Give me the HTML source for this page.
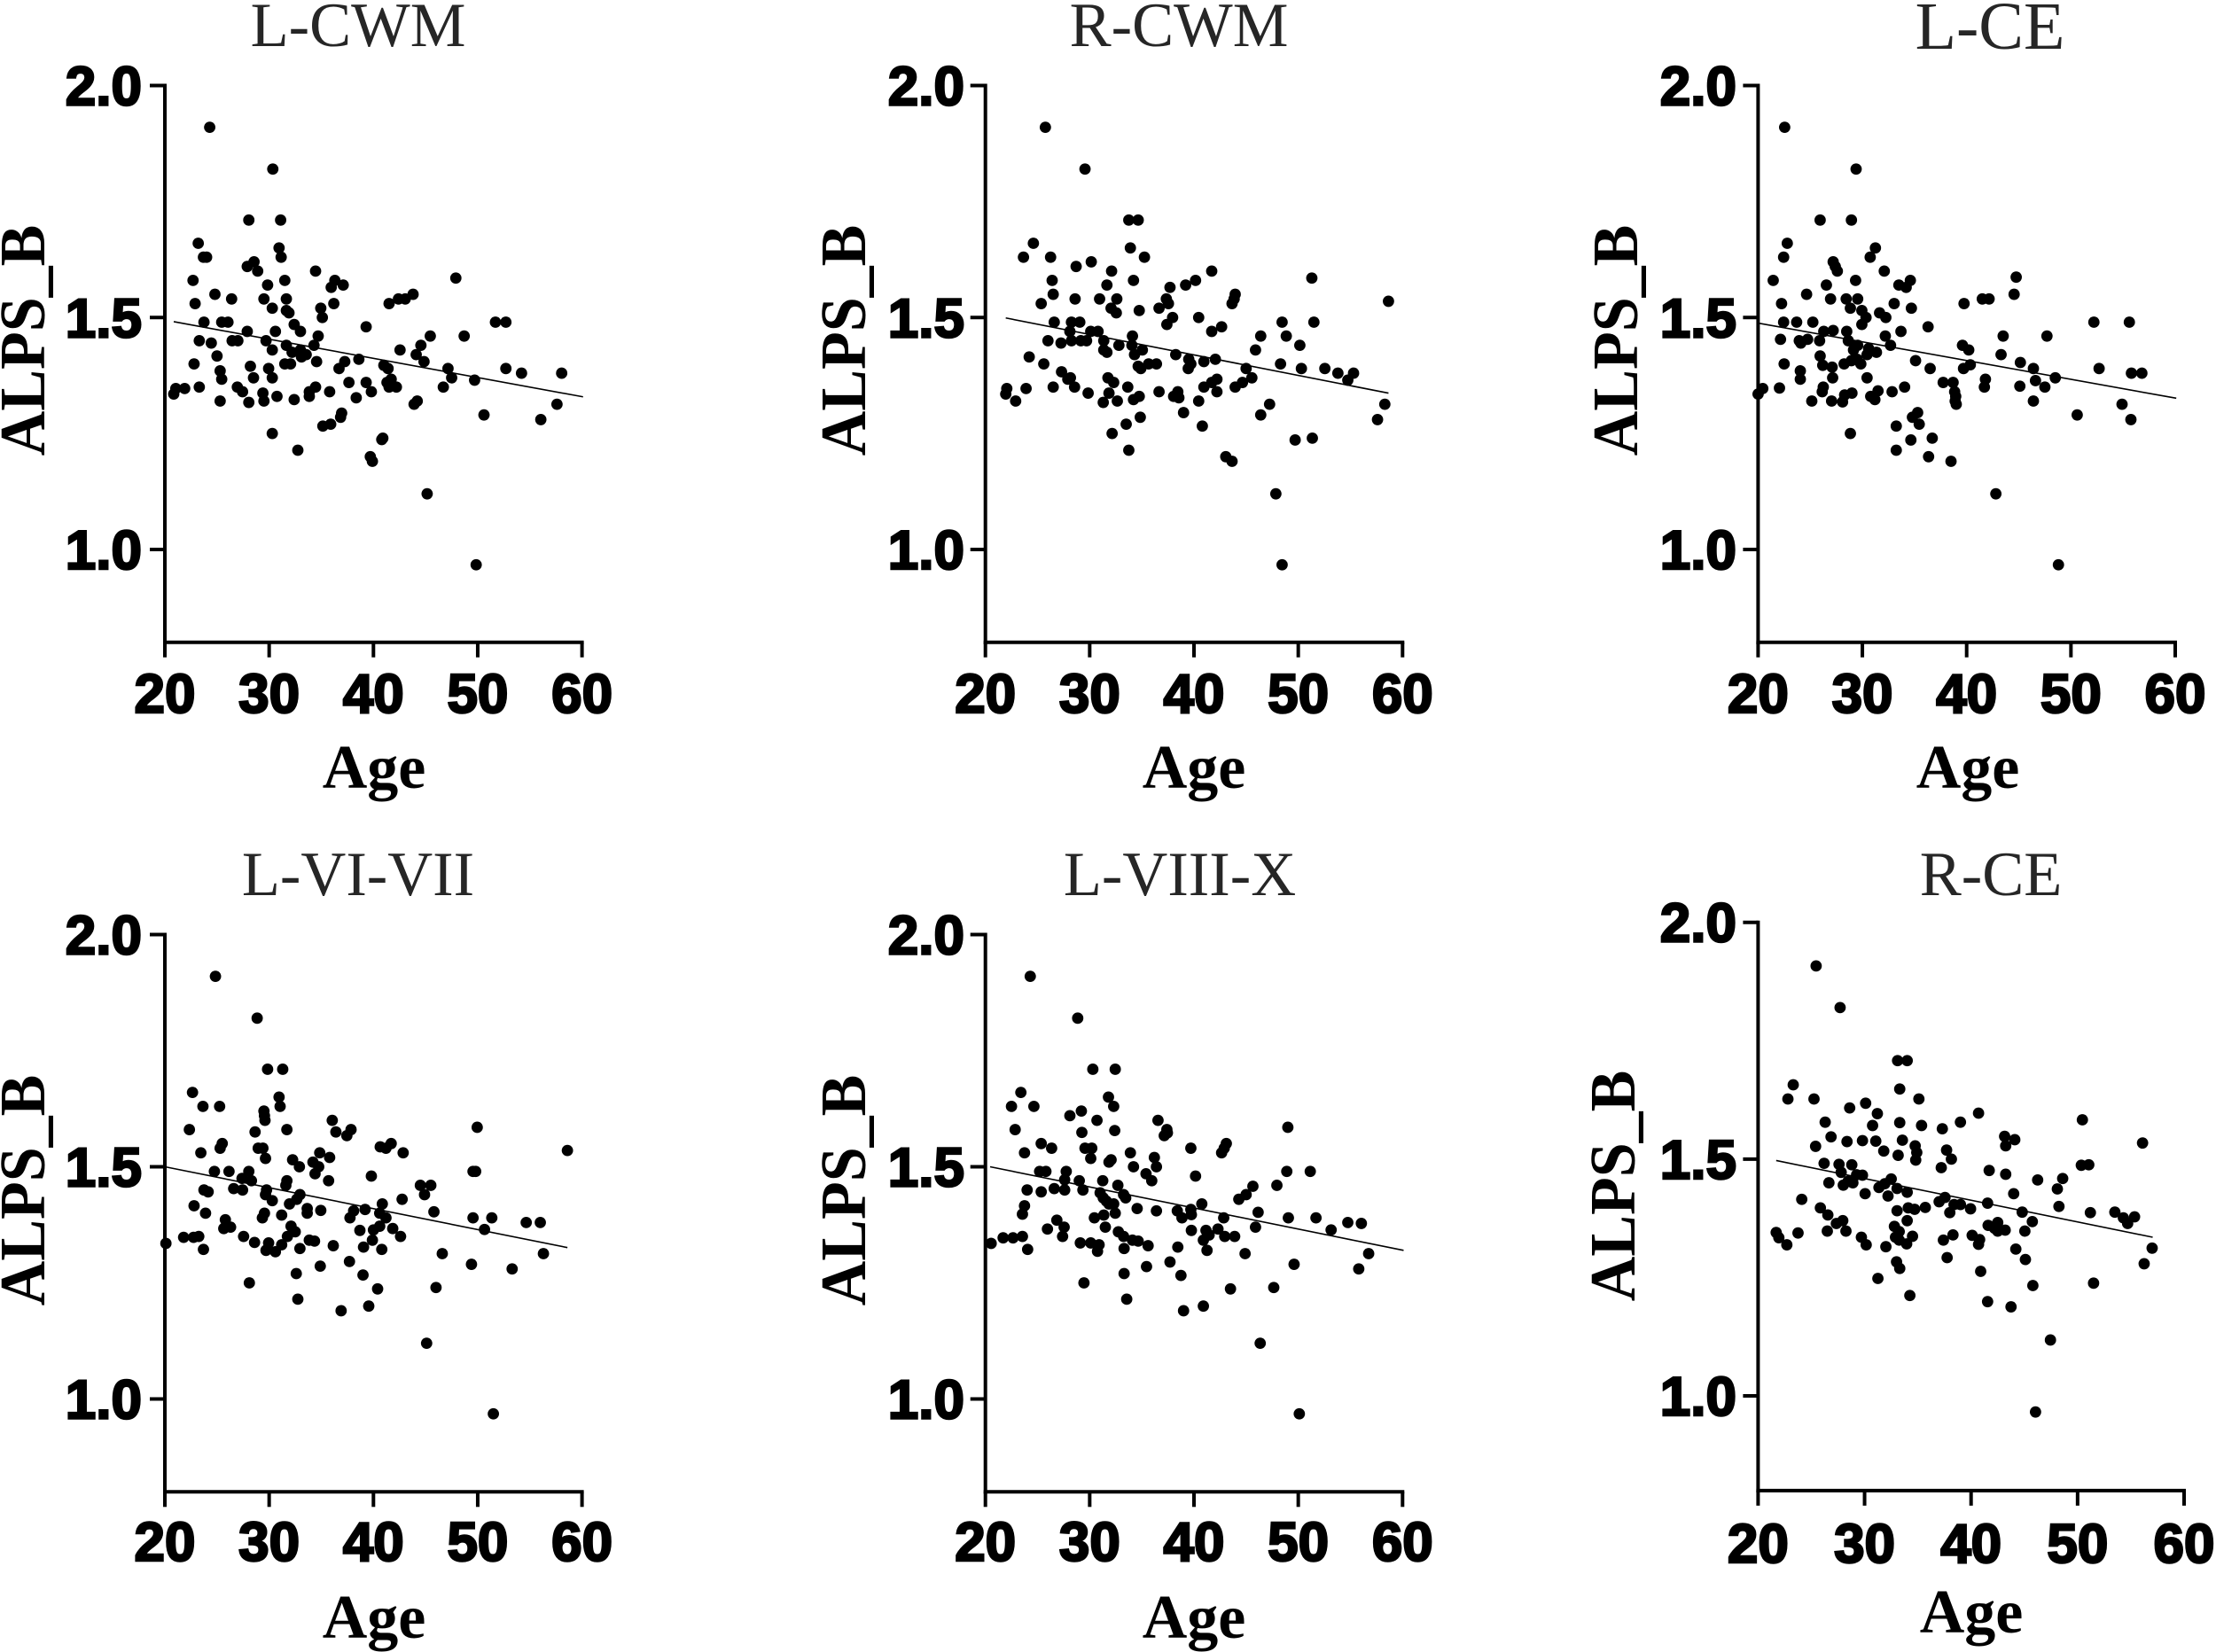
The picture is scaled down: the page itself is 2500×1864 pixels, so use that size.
<!DOCTYPE html>
<html lang="en">
<head>
<meta charset="utf-8">
<title>ALPS_B versus Age scatter plots</title>
<style>
html,body{margin:0;padding:0;background:#fff;}
svg{display:block;}
.panel-title{font-family:"Liberation Serif",serif;font-size:70.5px;fill:#262626;text-anchor:middle;}
.axis-title{font-family:"Liberation Serif",serif;font-size:70px;font-weight:bold;fill:#000;text-anchor:middle;}
.tick-label{font-family:"Liberation Sans",sans-serif;font-size:62px;font-weight:bold;fill:#000;stroke:#000;stroke-width:2.5px;}
</style>
</head>
<body>
<svg id="chart" xmlns="http://www.w3.org/2000/svg" width="2500" height="1864" viewBox="0 0 2500 1864">
  <rect width="2500" height="1864" fill="#fff"/>

  <g id="panel-0">
    <text class="panel-title" x="404" y="52">L-CWM</text>
    <text class="axis-title" transform="translate(50,384) rotate(-90) scale(1,1.04)">ALPS_B</text>
    <text class="axis-title" x="422" y="889">Age</text>
  </g>
  <g id="panel-1">
    <text class="panel-title" x="1330" y="52">R-CWM</text>
    <text class="axis-title" transform="translate(976,384) rotate(-90) scale(1,1.04)">ALPS_B</text>
    <text class="axis-title" x="1347" y="889">Age</text>
  </g>
  <g id="panel-2">
    <text class="panel-title" style="font-size:76px" x="2245" y="55">L-CE</text>
    <text class="axis-title" transform="translate(1847,384) rotate(-90) scale(1,1.04)">ALPS_B</text>
    <text class="axis-title" x="2220" y="889">Age</text>
  </g>
  <g id="panel-3">
    <text class="panel-title" x="404" y="1010">L-VI-VII</text>
    <text class="axis-title" transform="translate(50,1343) rotate(-90) scale(1,1.04)">ALPS_B</text>
    <text class="axis-title" x="422" y="1848">Age</text>
  </g>
  <g id="panel-4">
    <text class="panel-title" x="1331" y="1010">L-VIII-X</text>
    <text class="axis-title" transform="translate(976,1343) rotate(-90) scale(1,1.04)">ALPS_B</text>
    <text class="axis-title" x="1347" y="1848">Age</text>
  </g>
  <g id="panel-5">
    <text class="panel-title" x="2246" y="1010">R-CE</text>
    <text class="axis-title" transform="translate(1844,1338) rotate(-90) scale(1,1.04)">ALPS_B</text>
    <text class="axis-title" x="2224" y="1842">Age</text>
  </g>
</svg>

<script>
const xTickValues = [20, 30, 40, 50, 60];
const xTickLabels = ["20", "30", "40", "50", "60"];
const yTickValues = [2.0, 1.5, 1.0];
const yTickLabels = ["2.0", "1.5", "1.0"];

const lCwmAge = [
24.3,30.35,28.05,31.1,23.2,30.95,23.7,24.0,31.15,28.55,
27.9,28.9,34.45,22.7,29.85,31.5,36.3,37.1,35.95,47.9,
24.8,26.4,29.5,31.65,43.8,42.4,43.05,22.9,41.5,36.2,
30.3,31.65,31.9,34.95,35.1,23.75,25.45,26.05,32.4,51.7,
52.7,39.3,27.9,30.6,33.0,34.7,45.45,48.7,23.3,26.45,
27.0,29.7,24.45,31.65,34.3,44.55,30.3,42.55,33.0,33.55,
32.2,33.1,44.1,25.0,38.6,37.25,34.55,44.85,22.8,28.2,
31.5,32.05,41.0,41.4,36.7,29.95,47.15,52.7,25.3,54.2,
58.05,28.5,30.3,25.45,47.5,49.7,39.3,37.65,41.3,41.7,
41.5,42.2,23.3,21.9,21.05,20.85,26.95,34.45,33.85,46.7,
27.45,29.4,35.8,39.8,30.75,33.85,38.35,29.5,25.3,28.05,
32.4,44.2,43.9,57.6,50.6,36.95,36.85,56.05,35.9,35.15,
30.3,40.9,40.8,32.75,39.7,39.9,45.15,49.85];
const lCwmAlps = [
1.91,1.82,1.71,1.71,1.66,1.65,1.63,1.63,1.63,1.62,
1.61,1.60,1.60,1.58,1.57,1.58,1.58,1.57,1.565,1.585,
1.55,1.54,1.54,1.54,1.55,1.54,1.54,1.53,1.53,1.53,
1.52,1.515,1.51,1.52,1.50,1.49,1.49,1.49,1.485,1.49,
1.49,1.48,1.47,1.47,1.47,1.46,1.46,1.46,1.45,1.45,
1.45,1.45,1.445,1.44,1.44,1.44,1.43,1.43,1.43,1.42,
1.425,1.415,1.42,1.417,1.41,1.405,1.405,1.405,1.40,1.395,
1.40,1.40,1.397,1.39,1.39,1.39,1.39,1.39,1.385,1.38,
1.38,1.37,1.37,1.367,1.37,1.365,1.36,1.36,1.36,1.367,
1.35,1.35,1.35,1.347,1.347,1.335,1.35,1.35,1.34,1.35,
1.34,1.337,1.34,1.34,1.33,1.33,1.327,1.32,1.32,1.317,
1.323,1.32,1.313,1.313,1.29,1.294,1.285,1.28,1.27,1.266,
1.25,1.24,1.237,1.214,1.20,1.19,1.12,0.967];
const lCwmFitAge = [20.85, 60.1];
const lCwmFitAlps = [1.491, 1.329];

const rCwmAge = [
25.75,29.55,33.75,34.65,24.6,33.9,23.65,26.25,35.25,30.15,
28.7,32.1,41.7,26.4,31.65,34.2,39.2,40.15,37.7,51.3,
26.5,43.95,43.85,28.6,30.95,32.6,37.35,58.65,25.35,43.65,
37.55,36.65,32.05,32.55,34.75,37.95,40.45,26.6,28.25,29.05,
48.45,51.5,37.4,42.65,28.1,30.1,30.8,41.7,34.1,46.4,
48.85,26.0,28.25,29.15,29.7,31.35,27.25,32.8,34.05,50.15,
35.05,34.3,31.35,31.65,45.9,38.25,24.2,39.5,39.7,40.95,
42.05,48.3,25.6,34.65,34.9,35.65,36.4,39.45,45.0,50.3,
52.55,27.3,53.8,55.3,54.75,27.9,28.15,31.75,32.3,42.2,
41.7,45.55,44.65,26.5,23.9,22.05,21.95,28.55,33.65,40.95,
42.2,43.95,29.85,31.85,36.65,38.45,38.05,38.55,34.75,34.2,
22.9,31.3,32.65,40.45,47.25,58.3,39.0,46.4,34.85,57.6,
33.5,40.8,32.15,51.35,49.7,33.75,43.05,43.65,47.85,48.45];
const rCwmAlps = [
1.91,1.82,1.71,1.71,1.66,1.65,1.63,1.63,1.63,1.62,
1.61,1.60,1.60,1.58,1.57,1.58,1.57,1.58,1.565,1.585,
1.55,1.55,1.54,1.54,1.54,1.54,1.54,1.535,1.53,1.53,
1.53,1.52,1.52,1.51,1.515,1.50,1.50,1.49,1.49,1.49,
1.49,1.49,1.485,1.48,1.47,1.47,1.47,1.47,1.46,1.46,
1.46,1.45,1.45,1.45,1.45,1.45,1.445,1.44,1.44,1.44,
1.43,1.42,1.43,1.425,1.43,1.42,1.415,1.41,1.40,1.405,
1.41,1.40,1.40,1.395,1.39,1.40,1.40,1.39,1.39,1.39,
1.39,1.383,1.38,1.38,1.365,1.367,1.37,1.37,1.36,1.367,
1.36,1.37,1.36,1.35,1.347,1.347,1.335,1.35,1.35,1.35,
1.34,1.35,1.337,1.337,1.34,1.34,1.33,1.327,1.33,1.323,
1.32,1.317,1.32,1.32,1.313,1.313,1.295,1.29,1.285,1.28,
1.27,1.266,1.25,1.24,1.236,1.214,1.20,1.19,1.12,0.967];
const rCwmFitAge = [21.95, 58.65];
const rCwmFitAlps = [1.499, 1.337];

const lCeAge = [
22.55,29.4,25.95,28.95,22.8,31.25,22.45,30.75,27.2,27.4,
27.6,32.1,21.45,29.35,26.55,33.5,34.6,34.2,44.75,24.65,
44.55,26.95,28.45,29.55,41.5,42.15,22.25,33.05,39.75,28.85,
29.95,34.7,31.65,30.35,32.25,22.45,23.7,25.25,29.95,52.2,
55.6,36.3,26.3,27.2,28.5,33.7,32.2,43.5,47.7,22.15,
23.95,24.75,25.9,28.65,24.1,29.55,32.7,39.6,29.15,30.6,
31.35,30.45,40.2,25.95,43.3,28.95,29.85,29.5,28.25,22.5,
26.2,35.1,45.15,27.1,40.35,39.7,36.5,46.4,52.7,24.05,
55.8,56.8,27.15,30.45,24.05,48.5,37.75,38.7,41.8,46.6,
22.05,20.45,26.25,34.05,41.7,45.1,47.5,20.0,26.15,31.5,
32.85,38.85,28.3,29.0,30.8,38.95,38.9,39.0,25.15,27.05,
28.1,31.2,46.4,54.9,35.3,34.8,35.45,50.6,55.75,33.25,
28.85,36.7,34.65,33.25,36.35,38.5,42.8,48.8];
const lCeAlps = [
1.91,1.82,1.71,1.71,1.66,1.65,1.63,1.63,1.62,1.61,
1.60,1.60,1.58,1.58,1.57,1.57,1.58,1.565,1.587,1.55,
1.55,1.54,1.54,1.54,1.54,1.54,1.53,1.53,1.53,1.52,
1.515,1.52,1.51,1.50,1.50,1.49,1.49,1.49,1.485,1.49,
1.49,1.48,1.47,1.472,1.47,1.47,1.46,1.46,1.46,1.453,
1.45,1.453,1.45,1.45,1.445,1.44,1.44,1.44,1.43,1.433,
1.425,1.42,1.43,1.417,1.42,1.407,1.40,1.41,1.40,1.40,
1.397,1.407,1.403,1.393,1.398,1.39,1.39,1.39,1.39,1.385,
1.38,1.38,1.37,1.37,1.367,1.37,1.36,1.36,1.367,1.364,
1.348,1.347,1.35,1.35,1.35,1.352,1.35,1.335,1.34,1.342,
1.34,1.34,1.333,1.337,1.33,1.33,1.32,1.313,1.32,1.32,
1.318,1.323,1.32,1.313,1.295,1.285,1.27,1.29,1.28,1.266,
1.25,1.24,1.236,1.214,1.20,1.19,1.12,0.967];
const lCeFitAge = [20, 60.1];
const lCeFitAlps = [1.488, 1.326];

const lViViiAge = [
24.85,28.85,29.85,31.3,22.65,30.95,23.65,25.25,31.05,29.5,
29.55,29.6,22.35,31.7,36.05,36.4,37.45,37.85,49.95,28.65,
25.5,25.3,58.6,40.65,41.2,41.7,28.95,29.4,23.45,34.85,
42.85,29.65,35.8,32.25,34.2,32.9,34.75,24.75,26.15,28.05,
49.55,49.8,34.4,39.8,27.4,28.3,31.7,35.7,31.6,44.5,
45.5,26.6,27.45,23.75,24.15,29.75,29.65,44.9,32.95,32.65,
30.3,42.75,31.95,40.85,22.8,33.65,33.65,34.95,38.1,39.2,
40.6,41.2,23.9,29.55,29.35,31.2,45.8,37.75,49.55,51.35,
25.8,54.65,56.0,25.65,26.3,32.1,40.6,40.0,32.5,41.85,
38.7,50.65,21.8,22.75,23.25,27.55,31.75,42.6,33.85,34.35,
39.9,20.1,28.6,29.95,31.2,36.15,29.7,30.6,32.95,39.05,
23.7,40.8,46.6,56.3,37.7,49.4,34.9,53.3,32.6,39.0,
28.1,40.4,46.0,32.75,39.55,36.9,45.1,51.5];
const lViViiAlps = [
1.91,1.82,1.71,1.71,1.66,1.65,1.63,1.63,1.63,1.62,
1.61,1.60,1.58,1.58,1.60,1.575,1.567,1.58,1.585,1.575,
1.55,1.54,1.535,1.543,1.54,1.55,1.54,1.54,1.53,1.53,
1.53,1.518,1.52,1.515,1.51,1.50,1.50,1.49,1.49,1.49,
1.49,1.49,1.485,1.48,1.475,1.47,1.47,1.47,1.46,1.46,
1.46,1.453,1.45,1.45,1.446,1.45,1.44,1.44,1.44,1.43,
1.427,1.43,1.42,1.42,1.416,1.41,1.40,1.406,1.405,1.408,
1.40,1.39,1.40,1.40,1.39,1.396,1.403,1.39,1.39,1.39,
1.386,1.38,1.38,1.367,1.37,1.372,1.372,1.364,1.36,1.367,
1.363,1.365,1.348,1.348,1.35,1.35,1.35,1.35,1.342,1.34,
1.342,1.335,1.337,1.336,1.332,1.33,1.32,1.317,1.324,1.327,
1.322,1.322,1.313,1.313,1.296,1.29,1.286,1.28,1.27,1.267,
1.25,1.237,1.24,1.215,1.20,1.19,1.12,0.968];
const lViViiFitAge = [20, 58.6];
const lViViiFitAlps = [1.50, 1.326];

const lViiiXAge = [
24.3,28.85,30.3,32.45,23.4,31.8,22.5,24.65,32.3,29.2,
28.1,30.7,36.55,22.85,32.4,29.25,37.4,37.45,37.15,49.0,
43.1,42.9,42.65,25.35,26.35,29.55,30.2,39.7,23.75,33.9,
36.2,30.1,31.85,32.05,34.2,36.4,25.2,25.8,27.75,48.9,
51.15,35.4,27.6,40.15,29.0,31.25,35.95,32.7,45.65,47.95,
24.0,25.35,26.6,27.6,29.35,31.0,45.0,44.3,33.25,33.45,
31.3,31.6,31.85,32.3,40.75,23.75,34.55,36.4,38.4,39.7,
23.55,32.45,31.35,39.75,46.15,30.45,38.85,42.85,49.05,51.7,
26.85,54.75,56.05,27.55,31.5,45.9,25.95,42.3,41.15,39.75,
53.15,32.75,33.25,21.7,22.65,23.55,27.4,41.45,42.95,43.9,
34.1,34.65,40.9,20.55,29.1,30.1,30.9,35.6,38.45,33.3,
30.75,24.05,41.25,44.9,56.75,37.7,49.6,35.45,55.8,33.3,
38.75,29.45,43.5,47.65,33.55,40.9,39.0,46.35,50.1];
const lViiiXAlps = [
1.91,1.82,1.71,1.71,1.66,1.65,1.63,1.63,1.63,1.62,
1.61,1.60,1.60,1.58,1.578,1.574,1.58,1.573,1.567,1.585,
1.55,1.54,1.53,1.55,1.54,1.54,1.54,1.54,1.53,1.53,
1.52,1.518,1.51,1.515,1.50,1.50,1.49,1.49,1.49,1.49,
1.49,1.485,1.472,1.48,1.47,1.47,1.47,1.46,1.458,1.46,
1.45,1.446,1.453,1.45,1.45,1.444,1.44,1.43,1.44,1.433,
1.433,1.426,1.42,1.42,1.42,1.416,1.41,1.405,1.405,1.408,
1.398,1.40,1.396,1.397,1.402,1.39,1.39,1.39,1.39,1.39,
1.385,1.38,1.378,1.37,1.37,1.37,1.366,1.366,1.363,1.363,
1.364,1.36,1.35,1.347,1.347,1.35,1.35,1.353,1.35,1.35,
1.342,1.34,1.342,1.335,1.336,1.336,1.332,1.33,1.327,1.324,
1.318,1.322,1.32,1.313,1.313,1.295,1.29,1.285,1.28,1.27,
1.266,1.25,1.237,1.24,1.215,1.20,1.19,1.12,0.968];
const lViiiXFitAge = [20.45, 60.1];
const lViiiXFitAlps = [1.50, 1.32];

const rCeAge = [
25.45,27.7,33.1,34.0,23.3,33.3,22.8,25.25,35.1,30.1,
28.6,40.7,31.2,26.3,33.3,39.0,30.75,35.35,37.3,50.45,
26.85,43.15,28.35,29.8,31.05,33.55,44.1,56.1,25.4,34.75,
43.25,31.8,37.7,34.9,33.15,38.15,34.8,26.2,27.6,28.8,
50.35,51.05,37.2,41.7,27.8,43.25,29.25,29.8,46.25,48.6,
32.5,26.65,28.45,28.9,28.0,31.9,31.35,33.05,48.1,34.0,
30.05,44.0,32.2,24.1,37.55,37.0,41.55,38.4,39.0,48.25,
25.85,34.1,34.7,35.7,39.95,33.05,38.0,26.55,44.8,51.2,
53.5,54.3,55.35,54.7,27.35,27.95,34.0,32.8,45.75,41.6,
42.5,42.2,26.5,28.25,42.5,43.2,33.25,45.05,21.7,23.75,
21.95,29.7,32.9,34.5,38.3,37.4,40.1,40.8,40.7,33.25,
33.95,22.7,30.15,32.0,44.2,57.0,37.75,45.1,33.0,56.25,
33.3,40.9,31.25,45.8,51.5,34.25,41.55,43.75,47.45,46.05];
const rCeAlps = [
1.908,1.82,1.708,1.708,1.657,1.648,1.627,1.627,1.627,1.618,
1.608,1.597,1.596,1.578,1.577,1.578,1.571,1.571,1.564,1.583,
1.547,1.548,1.537,1.539,1.538,1.54,1.541,1.534,1.527,1.528,
1.528,1.517,1.519,1.514,1.508,1.50,1.498,1.491,1.489,1.488,
1.487,1.488,1.482,1.476,1.472,1.468,1.467,1.466,1.456,1.459,
1.458,1.45,1.453,1.45,1.445,1.448,1.44,1.438,1.437,1.43,
1.427,1.427,1.422,1.415,1.419,1.41,1.407,1.404,1.404,1.40,
1.397,1.397,1.394,1.398,1.395,1.391,1.387,1.382,1.388,1.387,
1.388,1.376,1.378,1.364,1.364,1.37,1.37,1.358,1.368,1.36,
1.366,1.354,1.348,1.348,1.348,1.35,1.347,1.348,1.345,1.344,
1.334,1.335,1.335,1.337,1.34,1.329,1.339,1.33,1.32,1.329,
1.321,1.319,1.319,1.315,1.31,1.312,1.292,1.288,1.283,1.279,
1.269,1.263,1.248,1.233,1.238,1.212,1.199,1.188,1.118,0.966];
const rCeFitAge = [21.7, 57.05];
const rCeFitAlps = [1.497, 1.335];

const SVG_NS = "http://www.w3.org/2000/svg";
const panelSeries = [
  {key: "l-cwm", age: lCwmAge, alps: lCwmAlps, fitAge: lCwmFitAge, fitAlps: lCwmFitAlps},
  {key: "r-cwm", age: rCwmAge, alps: rCwmAlps, fitAge: rCwmFitAge, fitAlps: rCwmFitAlps},
  {key: "l-ce", age: lCeAge, alps: lCeAlps, fitAge: lCeFitAge, fitAlps: lCeFitAlps},
  {key: "l-vi-vii", age: lViViiAge, alps: lViViiAlps, fitAge: lViViiFitAge, fitAlps: lViViiFitAlps},
  {key: "l-viii-x", age: lViiiXAge, alps: lViiiXAlps, fitAge: lViiiXFitAge, fitAlps: lViiiXFitAlps},
  {key: "r-ce", age: rCeAge, alps: rCeAlps, fitAge: rCeFitAge, fitAlps: rCeFitAlps}
];
const panelFrames = [
  {left: 186, right: 656.6, top: 96.5, unit: 620, labelRight: 160, labelBase: 804},
  {left: 1111.7, right: 1582.3, top: 96.5, unit: 620, labelRight: 1088, labelBase: 804},
  {left: 1983.4, right: 2454, top: 96.5, unit: 620, labelRight: 1959, labelBase: 804},
  {left: 186, right: 656.6, top: 1054.5, unit: 1578.5, labelRight: 160, labelBase: 1761},
  {left: 1111.7, right: 1582.3, top: 1054.5, unit: 1578.5, labelRight: 1088, labelBase: 1761},
  {left: 1983.4, right: 2464, top: 1040.7, unit: 1575, labelRight: 1959, labelBase: 1763}
];

function makeLine(parent, x1, y1, x2, y2, width) {
  const el = document.createElementNS(SVG_NS, "line");
  el.setAttribute("x1", x1);
  el.setAttribute("y1", y1);
  el.setAttribute("x2", x2);
  el.setAttribute("y2", y2);
  el.setAttribute("stroke", "#000");
  el.setAttribute("stroke-width", width);
  parent.appendChild(el);
  return el;
}

function makeLabel(parent, x, y, anchor, content) {
  const el = document.createElementNS(SVG_NS, "text");
  el.setAttribute("class", "tick-label");
  el.setAttribute("x", x);
  el.setAttribute("y", y);
  el.setAttribute("text-anchor", anchor);
  el.textContent = content;
  parent.appendChild(el);
  return el;
}

function drawPanel(index) {
  const series = panelSeries[index];
  const frame = panelFrames[index];
  const group = document.getElementById("panel-" + index);
  const xScale = function (age) {
    return frame.left + (age - 20) * (frame.right - frame.left) / 40;
  };
  const yScale = function (alps) {
    return frame.top + (2 - alps) * (frame.unit - frame.top);
  };
  const bottom = yScale(0.8);

  const yAxis = makeLine(group, frame.left, frame.top - 2, frame.left, bottom + 2, 4);
  
  
  const xAxis = makeLine(group, frame.left - 2, bottom, frame.right + 2, bottom, 4);
  
  

  yTickValues.forEach(function (value, i) {
    const tick = makeLine(group, frame.left - 17, yScale(value), frame.left, yScale(value), 4);
    
    
    const label = makeLabel(group, frame.labelRight, yScale(value) + 22, "end", yTickLabels[i]);
    
    
  });

  xTickValues.forEach(function (value, i) {
    const tick = makeLine(group, xScale(value), bottom, xScale(value), bottom + 17, 4);
    
    
    const label = makeLabel(group, xScale(value), frame.labelBase, "middle", xTickLabels[i]);
    
    
  });

  series.age.forEach(function (age, i) {
    const dot = document.createElementNS(SVG_NS, "circle");
    dot.setAttribute("cx", xScale(age));
    dot.setAttribute("cy", yScale(series.alps[i]));
    dot.setAttribute("r", 6.4);
    dot.setAttribute("fill", "#000");
    
    
    group.appendChild(dot);
  });

  const fit = makeLine(group, xScale(series.fitAge[0]), yScale(series.fitAlps[0]), xScale(series.fitAge[1]), yScale(series.fitAlps[1]), 1.6);
  
  
}

panelSeries.forEach(function (series, index) {
  drawPanel(index);
});
</script>
</body>
</html>
